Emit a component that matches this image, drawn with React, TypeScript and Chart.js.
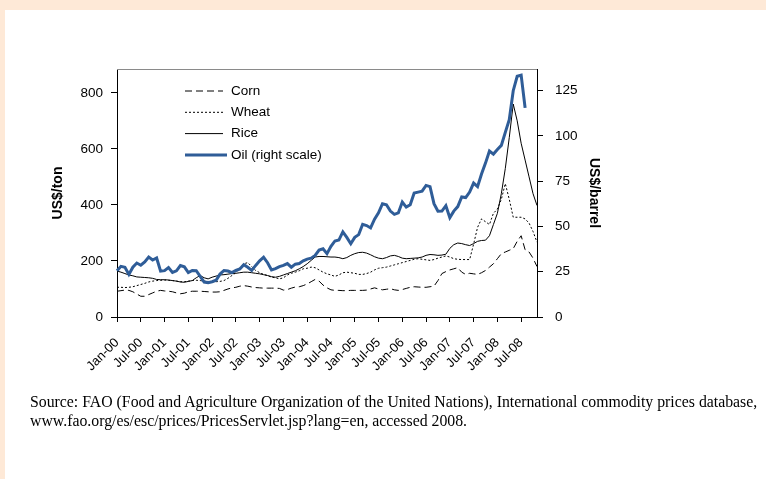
import React, { useEffect, useRef } from "react";
import { Chart, registerables } from "chart.js";

Chart.register(...registerables);

// ---- Data ----
const years = ["00", "01", "02", "03", "04", "05", "06", "07", "08"];
const monthNames = ["Jan", "Feb", "Mar", "Apr", "May", "Jun", "Jul", "Aug", "Sep", "Oct", "Nov", "Dec"];
const months: string[] = years.flatMap((y) => monthNames.map((m) => `${m}-${y}`)).slice(0, 107);

const corn = [
  92, 94, 96, 95, 90, 82, 74, 74, 80, 86, 92, 95,
  93, 92, 90, 86, 83, 85, 90, 92, 92, 92, 91, 90,
  89, 89, 90, 95, 100, 104, 106, 110, 112, 110, 107, 105,
  104, 103, 103, 103, 103, 102, 96, 98, 103, 107, 108, 112,
  118, 126, 134, 128, 114, 104, 97, 95, 95, 94, 94, 95,
  95, 95, 95, 96, 100, 104, 100, 97, 99, 101, 97, 95,
  98, 102, 106, 108, 107, 106, 106, 108, 110, 130, 155, 162,
  168, 172, 176, 160, 152, 156, 154, 152, 158, 166, 178, 190,
  208, 226, 232, 238, 244, 270, 290, 240, 232, 210, 180,
];

const wheat = [
  106, 106, 105, 106, 108, 112, 116, 120, 125, 128, 130, 131,
  132, 131, 130, 128, 126, 126, 128, 130, 131, 130, 128, 127,
  126, 126, 127, 130, 138, 148, 158, 175, 190, 194, 180, 166,
  158, 152, 148, 142, 140, 136, 140, 150, 156, 160, 165, 172,
  174, 178, 176, 168, 160, 154, 150, 145, 150, 158, 160, 158,
  156, 152, 152, 155, 160, 168, 174, 176, 178, 182, 186, 190,
  194, 198, 202, 206, 208, 206, 204, 202, 205, 210, 214, 218,
  214, 208, 206, 205, 205, 205, 260, 320, 350, 340, 330, 370,
  385, 420, 476, 420, 356, 356, 356, 350, 335, 305, 267,
];

const rice = [
  164, 160, 155, 150, 147, 143, 142, 141, 140, 138, 134, 133,
  133, 132, 130, 128, 125, 124, 127, 130, 140, 148, 140, 136,
  142, 146, 150, 151, 153, 155, 156, 158, 160, 160, 158, 156,
  154, 151, 148, 144, 142, 145, 150, 155, 160, 165, 172, 180,
  190, 202, 214, 216, 216, 215, 214, 214, 212, 208, 212, 220,
  226, 230, 231, 228, 222, 215, 210, 208, 212, 218, 220, 216,
  210, 208, 209, 210, 211, 214, 220, 223, 222, 220, 221, 224,
  245, 258, 264, 262, 258, 255, 262, 270, 273, 274, 290, 330,
  370, 440, 530, 640, 760, 700, 620, 560, 500, 440, 398,
];

const oil = [
  25.5, 28.0, 27.5, 23.5, 27.5, 29.8, 28.6, 30.4, 33.1, 31.5, 32.6, 25.3,
  25.6, 27.3, 24.6, 25.5, 28.4, 27.7, 24.5, 25.7, 25.6, 22.5, 19.3, 19.0,
  19.5, 20.3, 23.7, 25.7, 25.4, 24.5, 25.7, 26.5, 28.9, 27.5, 25.7, 28.5,
  31.0, 33.0, 30.0, 26.0, 26.7, 27.8, 28.5, 29.5, 27.5, 29.2, 29.5, 31.0,
  32.0, 32.5, 34.0, 37.0, 37.7, 35.0, 39.0, 42.0, 42.5, 47.0, 44.0, 40.5,
  44.0, 45.5, 51.2, 50.5, 49.2, 54.0, 57.5, 62.6, 62.0, 58.5, 56.7, 57.5,
  63.5, 60.7, 62.0, 68.5, 69.0, 69.5, 72.7, 72.0, 62.6, 58.4, 58.5, 61.5,
  54.9, 58.5, 61.0, 66.3, 66.0, 69.0, 74.0, 72.0, 79.0, 85.0, 91.7, 90.0,
  92.5, 94.8, 102, 109, 125, 133, 133.6, 115.5, null, null, null,
];

const leftTicks = [0, 200, 400, 600, 800];
const rightTicks = [0, 25, 50, 75, 100, 125];

const FONT = "'Liberation Sans', Arial, sans-serif";
const OIL_BLUE = "#2F5D98";

const insideLegend = {
  id: "insideLegend",
  afterDraw(chart: any) {
    const { ctx, chartArea } = chart;
    const x0 = chartArea.left + 68;
    const lineLen = 38;
    let y = chartArea.top + 22;
    ctx.save();
    ctx.font = `13.5px ${FONT}`;
    ctx.textBaseline = "middle";
    ctx.textAlign = "left";
    chart.data.datasets.forEach((ds: any) => {
      ctx.beginPath();
      ctx.setLineDash(ds.borderDash || []);
      ctx.lineWidth = ds.borderWidth;
      ctx.strokeStyle = ds.borderColor;
      const len = ds.borderWidth > 2 ? lineLen + 4 : lineLen;
      ctx.moveTo(x0, y);
      ctx.lineTo(x0 + len, y);
      ctx.stroke();
      ctx.setLineDash([]);
      ctx.fillStyle = "#000";
      ctx.fillText(ds.label, x0 + 46, y);
      y += 21.3;
    });
    ctx.restore();
  },
};

const topBorder = {
  id: "topBorder",
  afterDraw(chart: any) {
    const { ctx, chartArea } = chart;
    ctx.save();
    ctx.strokeStyle = "#8a8a8a";
    ctx.lineWidth = 1;
    ctx.beginPath();
    ctx.moveTo(chartArea.left, chartArea.top + 0.5);
    ctx.lineTo(chartArea.right, chartArea.top + 0.5);
    ctx.stroke();
    ctx.restore();
  },
};

export default function App() {
  const ref = useRef<HTMLCanvasElement>(null);

  useEffect(() => {
    if (!ref.current) return;
    const chart = new Chart(ref.current, {
      type: "line",
      data: {
        labels: months,
        datasets: [
          {
            label: "Corn",
            data: corn,
            borderColor: "#000",
            borderWidth: 1,
            borderDash: [7, 4],
            pointRadius: 0,
            yAxisID: "y",
            order: 3,
          },
          {
            label: "Wheat",
            data: wheat,
            borderColor: "#000",
            borderWidth: 1,
            borderDash: [2, 2],
            pointRadius: 0,
            yAxisID: "y",
            order: 2,
          },
          {
            label: "Rice",
            data: rice,
            borderColor: "#000",
            borderWidth: 1,
            pointRadius: 0,
            yAxisID: "y",
            order: 1,
          },
          {
            label: "Oil (right scale)",
            data: oil,
            borderColor: OIL_BLUE,
            borderWidth: 3,
            pointRadius: 0,
            yAxisID: "y1",
            order: 0,
            spanGaps: false,
          },
        ],
      },
      options: {
        animation: false,
        responsive: false,
        layout: { padding: { left: 46, top: 69, right: 160, bottom: 13 } },
        plugins: {
          legend: { display: false },
          tooltip: { enabled: false },
        },
        scales: {
          x: {
            type: "category",
            offset: false,
            grid: {
              drawOnChartArea: false,
              drawTicks: true,
              tickLength: 5,
              tickColor: (c: any) => (c.index % 6 === 0 ? "#000" : "rgba(0,0,0,0)"),
            },
            border: { display: true, color: "#000", width: 1 },
            ticks: {
              autoSkip: false,
              minRotation: 45,
              maxRotation: 45,
              padding: 13,
              color: "#000",
              font: { family: FONT, size: 13 },
              callback: (_v: any, i: number) => (i % 6 === 0 ? months[i] : ""),
            },
            afterFit: (s: any) => {
              s.height = 70;
            },
          },
          y: {
            position: "left",
            min: 0,
            max: 885,
            grid: { drawOnChartArea: false, drawTicks: true, tickLength: 6, tickColor: "#000" },
            border: { display: true, color: "#000", width: 1 },
            afterBuildTicks: (s: any) => {
              s.ticks = leftTicks.map((v) => ({ value: v }));
            },
            ticks: {
              padding: 8,
              color: "#000",
              font: { family: FONT, size: 13.5 },
            },
            title: {
              display: true,
              text: "US$/ton",
              color: "#000",
              font: { family: FONT, size: 14, weight: "bold" },
            },
            afterFit: (s: any) => {
              s.width = 71;
            },
          },
          y1: {
            position: "right",
            min: 0,
            max: 137,
            grid: { drawOnChartArea: false, drawTicks: true, tickLength: 6, tickColor: "#000" },
            border: { display: true, color: "#000", width: 1 },
            afterBuildTicks: (s: any) => {
              s.ticks = rightTicks.map((v) => ({ value: v }));
            },
            ticks: {
              padding: 12,
              color: "#000",
              font: { family: FONT, size: 13.5 },
            },
            title: {
              display: true,
              text: "US$/barrel",
              color: "#000",
              font: { family: FONT, size: 14, weight: "bold" },
            },
            afterFit: (s: any) => {
              s.width = 69;
            },
          },
        },
      },
      plugins: [insideLegend, topBorder],
    } as any);
    return () => chart.destroy();
  }, []);

  return (
    <div
      style={{
        position: "fixed",
        left: 0,
        top: 0,
        width: 766,
        height: 479,
        background: "#FEE9D7",
        overflow: "hidden",
      }}
    >
      <div
        style={{
          position: "absolute",
          left: 5,
          top: 10,
          right: 0,
          bottom: 0,
          background: "#fff",
        }}
      />
      <canvas
        ref={ref}
        width={766}
        height={400}
        style={{ position: "absolute", left: 0, top: 0, width: 766, height: 400 }}
      />
      <div
        style={{
          position: "absolute",
          left: 30,
          top: 392,
          fontFamily: "'Liberation Serif', 'Times New Roman', serif",
          fontSize: 15.8,
          lineHeight: "19px",
          color: "#000",
          whiteSpace: "nowrap",
        }}
      >
        <div>
          Source: FAO (Food and Agriculture Organization of the United Nations), International commodity prices
          database,
        </div>
        <div>www.fao.org/es/esc/prices/PricesServlet.jsp?lang=en, accessed 2008.</div>
      </div>
    </div>
  );
}
